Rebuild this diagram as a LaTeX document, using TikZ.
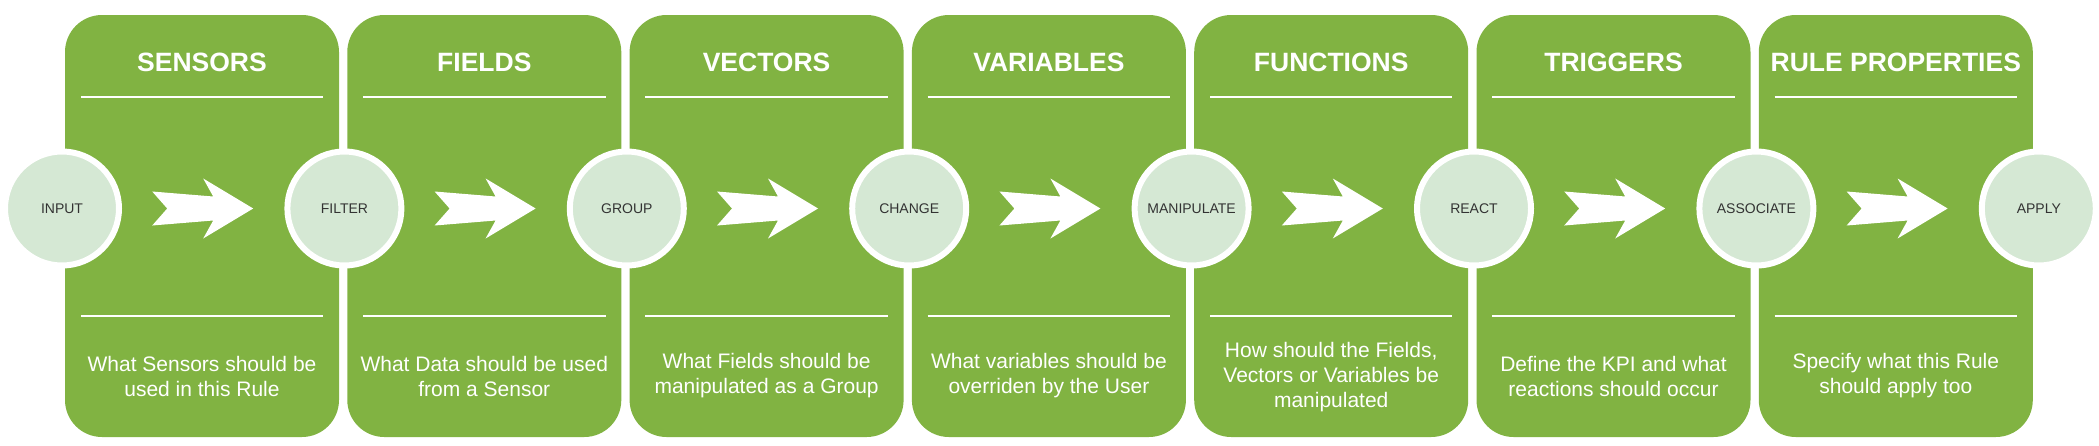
\documentclass[tikz,border=0pt]{standalone}
\usepackage{fontspec}
\setmainfont{Liberation Sans}
\usetikzlibrary{calc}
\definecolor{leafgreen}{HTML}{81B342}
\definecolor{stagefill}{HTML}{D5E8D4}
\definecolor{stagetext}{HTML}{333333}

\begin{document}
\begin{tikzpicture}[
  x=1pt,y=-1pt,
  panel/.style={fill=leafgreen,rounded corners=37pt,minimum width=274pt,minimum height=422pt,inner sep=0pt},
  stage/.style={circle,fill=stagefill,draw=white,line width=6pt,minimum size=114pt,inner sep=0pt,text=stagetext,font=\fontsize{14}{16}\selectfont},
  heading/.style={text=white,font=\fontsize{26.5}{30}\selectfont\bfseries},
  blurb/.style={text=white,align=center,font=\fontsize{21}{25}\selectfont},
  rule/.style={draw=white,line width=1.5pt},
  chevron/.pic={\fill[white] (-51,-17) -- (10,-12) -- (0,-30) -- (50,0) -- (0,30) -- (10,12) -- (-51,17) -- (-36,0) -- cycle;}
]
  \useasboundingbox (0,0) rectangle (2099,445);

  % panels
  \node[panel] (sensors) at (202,226) {};
  \node[panel] (fields) at (484.3,226) {};
  \node[panel] (vectors) at (766.6,226) {};
  \node[panel] (variables) at (1048.9,226) {};
  \node[panel] (functions) at (1331.2,226) {};
  \node[panel] (triggers) at (1613.5,226) {};
  \node[panel] (ruleprops) at (1895.8,226) {};

  % separator rules
  \draw[rule] ([xshift=16pt,yshift=-82pt]sensors.north west) -- ([xshift=-16pt,yshift=-82pt]sensors.north east)
    ([xshift=16pt,yshift=121pt]sensors.south west) -- ([xshift=-16pt,yshift=121pt]sensors.south east);
  \draw[rule] ([xshift=16pt,yshift=-82pt]fields.north west) -- ([xshift=-16pt,yshift=-82pt]fields.north east)
    ([xshift=16pt,yshift=121pt]fields.south west) -- ([xshift=-16pt,yshift=121pt]fields.south east);
  \draw[rule] ([xshift=16pt,yshift=-82pt]vectors.north west) -- ([xshift=-16pt,yshift=-82pt]vectors.north east)
    ([xshift=16pt,yshift=121pt]vectors.south west) -- ([xshift=-16pt,yshift=121pt]vectors.south east);
  \draw[rule] ([xshift=16pt,yshift=-82pt]variables.north west) -- ([xshift=-16pt,yshift=-82pt]variables.north east)
    ([xshift=16pt,yshift=121pt]variables.south west) -- ([xshift=-16pt,yshift=121pt]variables.south east);
  \draw[rule] ([xshift=16pt,yshift=-82pt]functions.north west) -- ([xshift=-16pt,yshift=-82pt]functions.north east)
    ([xshift=16pt,yshift=121pt]functions.south west) -- ([xshift=-16pt,yshift=121pt]functions.south east);
  \draw[rule] ([xshift=16pt,yshift=-82pt]triggers.north west) -- ([xshift=-16pt,yshift=-82pt]triggers.north east)
    ([xshift=16pt,yshift=121pt]triggers.south west) -- ([xshift=-16pt,yshift=121pt]triggers.south east);
  \draw[rule] ([xshift=16pt,yshift=-82pt]ruleprops.north west) -- ([xshift=-16pt,yshift=-82pt]ruleprops.north east)
    ([xshift=16pt,yshift=121pt]ruleprops.south west) -- ([xshift=-16pt,yshift=121pt]ruleprops.south east);

  % headings
  \node[heading] (h-sensors) at (202,62) {SENSORS};
  \node[heading] (h-fields) at (484.3,62) {FIELDS};
  \node[heading] (h-vectors) at (766.6,62) {VECTORS};
  \node[heading] (h-variables) at (1048.9,62) {VARIABLES};
  \node[heading] (h-functions) at (1331.2,62) {FUNCTIONS};
  \node[heading] (h-triggers) at (1613.5,62) {TRIGGERS};
  \node[heading] (h-ruleprops) at (1895.8,62) {RULE PROPERTIES};

  % descriptions
  \node[blurb] (d-sensors) at (202,376) {What Sensors should be\\used in this Rule};
  \node[blurb] (d-fields) at (484.3,376) {What Data should be used\\from a Sensor};
  \node[blurb] (d-vectors) at (766.6,376) {What Fields should be\\manipulated as a Group};
  \node[blurb] (d-variables) at (1048.9,376) {What variables should be\\overriden by the User};
  \node[blurb] (d-functions) at (1331.2,377) {How should the Fields,\\Vectors or Variables be\\manipulated};
  \node[blurb] (d-triggers) at (1613.5,376) {Define the KPI and what\\reactions should occur};
  \node[blurb] (d-ruleprops) at (1895.8,376) {Specify what this Rule\\should apply too};

  % stages
  \node[stage] (input) at (62,208.5) {INPUT};
  \node[stage] (filter) at (344.4,208.5) {FILTER};
  \node[stage] (group) at (626.8,208.5) {GROUP};
  \node[stage] (change) at (909.2,208.5) {CHANGE};
  \node[stage] (manipulate) at (1191.6,208.5) {MANIPULATE};
  \node[stage] (react) at (1474,208.5) {REACT};
  \node[stage] (associate) at (1756.4,208.5) {ASSOCIATE};
  \node[stage] (apply) at (2038.8,208.5) {APPLY};

  % arrows
  \pic at ($(input)!.5!(filter)$) {chevron};
  \pic at ($(filter)!.5!(group)$) {chevron};
  \pic at ($(group)!.5!(change)$) {chevron};
  \pic at ($(change)!.5!(manipulate)$) {chevron};
  \pic at ($(manipulate)!.5!(react)$) {chevron};
  \pic at ($(react)!.5!(associate)$) {chevron};
  \pic at ($(associate)!.5!(apply)$) {chevron};
\end{tikzpicture}
\end{document}
